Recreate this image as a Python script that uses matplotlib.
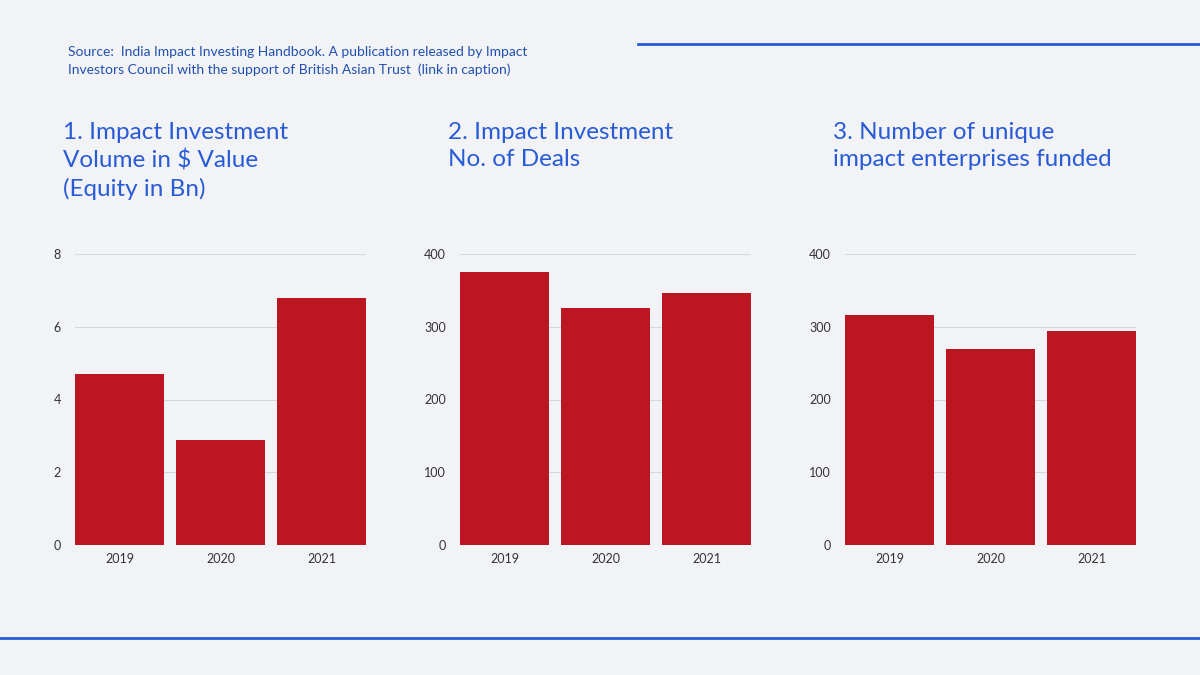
import matplotlib.pyplot as plt
from matplotlib.lines import Line2D

years = ["2019", "2020", "2021"]
volume_bn = [4.7, 2.9, 6.8]
deals = [375, 326, 346]
enterprises = [316, 269, 294]

titles = [
    "1. Impact Investment\nVolume in $ Value\n(Equity in Bn)",
    "2. Impact Investment\nNo. of Deals",
    "3. Number of unique\nimpact enterprises funded",
]
series = [volume_bn, deals, enterprises]
ymax = [8, 400, 400]
ystep = [2, 100, 100]

blue = "#2a5bd7"
red = "#bb1622"
bg = "#f1f3f6"

plt.rcParams["font.family"] = ["Lato", "DejaVu Sans"]
fig = plt.figure(figsize=(12, 6.75), dpi=100, facecolor=bg)

lefts = [75, 460, 845]
for i in range(3):
    ax = fig.add_axes([lefts[i] / 1200, 1 - 545 / 675, 291 / 1200, 291 / 675])
    ax.set_facecolor("none")
    ax.bar(range(3), series[i], width=0.88, color=red, zorder=3)
    ax.set_xlim(-0.44, 2.44)
    ax.set_ylim(0, ymax[i])
    ax.set_yticks(range(0, ymax[i] + 1, ystep[i]))
    ax.set_xticks(range(3))
    ax.set_xticklabels(years)
    ax.grid(axis="y", color="#d5d8dc", linewidth=0.8, zorder=0)
    for s in ax.spines.values():
        s.set_visible(False)
    ax.tick_params(length=0, labelsize=9, colors="#333333", pad=6)
    ax.tick_params(axis="y", pad=10)
    fig.text((lefts[i] - 12) / 1200, 1 - 122 / 675, titles[i], color=blue,
             fontsize=17.5, va="top", ha="left", linespacing=1.35)

fig.text(68 / 1200, 1 - 46 / 675,
         "Source:  India Impact Investing Handbook. A publication released by Impact\n"
         "Investors Council with the support of British Asian Trust  (link in caption)",
         color="#2250b0", fontsize=10, va="top", ha="left", linespacing=1.5)

fig.add_artist(Line2D([638 / 1200, 1], [1 - 44 / 675] * 2, color=blue, lw=2))
fig.add_artist(Line2D([0, 1], [1 - 638 / 675] * 2, color=blue, lw=2))

fig.savefig("out.png", dpi=100, facecolor=bg)
